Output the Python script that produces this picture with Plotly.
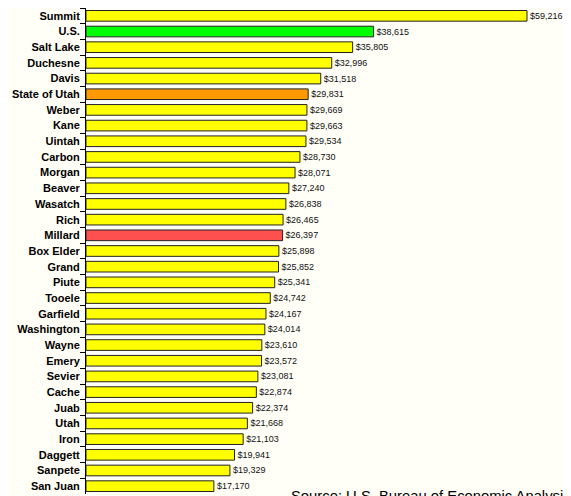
import plotly.graph_objects as go

AREAS = [
    "Summit", "U.S.", "Salt Lake", "Duchesne", "Davis", "State of Utah", "Weber",
    "Kane", "Uintah", "Carbon", "Morgan", "Beaver", "Wasatch", "Rich", "Millard",
    "Box Elder", "Grand", "Piute", "Tooele", "Garfield", "Washington", "Wayne",
    "Emery", "Sevier", "Cache", "Juab", "Utah", "Iron", "Daggett", "Sanpete", "San Juan",
]
INCOME = [
    59216, 38615, 35805, 32996, 31518, 29831, 29669,
    29663, 29534, 28730, 28071, 27240, 26838, 26465, 26397,
    25898, 25852, 25341, 24742, 24167, 24014, 23610,
    23572, 23081, 22874, 22374, 21668, 21103, 19941, 19329, 17170,
]
HIGHLIGHT = {"U.S.": "#00FF00", "State of Utah": "#FF9900", "Millard": "#FF5050"}
DEFAULT_COLOR = "#FFFF00"
SOURCE_NOTE = "Source: U.S. Bureau of Economic Analysis"

colors = [HIGHLIGHT.get(a, DEFAULT_COLOR) for a in AREAS]
labels = [f"${v:,}" for v in INCOME]

fig = go.Figure(
    go.Bar(
        x=INCOME,
        y=AREAS,
        orientation="h",
        width=0.68,
        marker=dict(color=colors, line=dict(color="#222222", width=1)),
        text=labels,
        textposition="outside",
        textfont=dict(family="Liberation Sans, Arial", size=9, color="#111111"),
        constraintext="none",
        cliponaxis=False,
        hoverinfo="skip",
    )
)

# the page body adds an 8px offset, so the figure is sized to the remaining window
fig.update_layout(
    width=563,
    height=488,
    paper_bgcolor="#FFFEF7",
    plot_bgcolor="#FFFEF7",
    margin=dict(l=78, r=0, t=0, b=2, autoexpand=False),
    showlegend=False,
    xaxis=dict(
        range=[0, 65124],
        showticklabels=False,
        showgrid=False,
        zeroline=False,
        showline=False,
        ticks="",
    ),
    yaxis=dict(
        categoryorder="array",
        categoryarray=AREAS,
        autorange="reversed",
        showgrid=False,
        showline=True,
        linecolor="#000000",
        linewidth=1,
        ticks="outside",
        tickson="boundaries",
        ticklen=5,
        tickcolor="#000000",
        ticklabelstandoff=3,
        tickfont=dict(family="Liberation Sans, Arial", size=11, color="#000000", weight="bold"),
    ),
    annotations=[
        dict(
            text=SOURCE_NOTE,
            xref="paper",
            yref="paper",
            x=0.4186,
            y=0.0165,
            xanchor="left",
            yanchor="top",
            showarrow=False,
            font=dict(family="Liberation Sans, Arial", size=14.8, color="#000000"),
        )
    ],
)

fig.write_html("out.html")
